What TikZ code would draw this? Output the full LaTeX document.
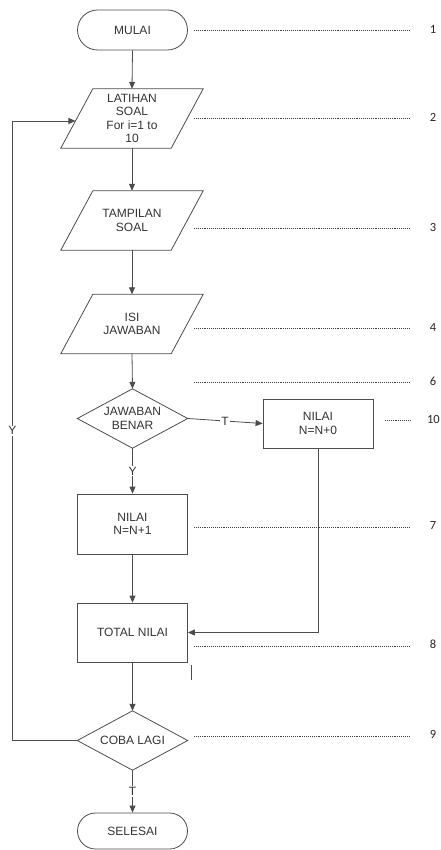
\documentclass[tikz,border=0pt]{standalone}
\usepackage{fontspec}
\setmainfont{Liberation Sans}
\newfontfamily\numfont{Carlito}
\usetikzlibrary{shapes.misc,arrows.meta,calc}
\begin{document}
\begin{tikzpicture}[x=1pt,y=-1pt,
  every node/.style={font=\fontsize{12}{13.5}\selectfont, text=black!80},
  term/.style={rounded rectangle, draw=black!70, line width=0.8pt, minimum width=110pt, minimum height=40pt, inner sep=0pt},
  box/.style={rectangle, draw=black!70, line width=0.8pt, minimum width=110pt, inner sep=0pt, align=center},
  io/.style={rectangle, minimum width=142pt, minimum height=59pt, inner sep=0pt, align=center},
  dec/.style={rectangle, minimum width=110pt, minimum height=59pt, inner sep=0pt, align=center},
  shp/.style={draw=black!70, line width=0.8pt, line join=miter},
  arr/.style={draw=black!70, line width=0.8pt, -{Triangle[length=7pt,width=6pt]}},
  lbl/.style={fill=white, inner sep=1pt},
  lead/.style={draw=black!75, line width=0.9pt, dash pattern=on 1pt off 0.9pt},
  num/.style={font=\numfont\fontsize{12.5}{14}\selectfont, text=black!85, inner sep=0pt}
]
\useasboundingbox (0,0) rectangle (441,850);

% nodes
\node[term] (mulai) at (132.5,30) {MULAI};
\node[io] (latihan) at (132,118.5) {LATIHAN\\SOAL\\For i=1 to\\10};
\node[io] (tampil) at (132,220.5) {TAMPILAN\\SOAL};
\node[io] (isi) at (132,324) {ISI\\JAWABAN};
\node[dec] (jaw) at (132.5,418.5) {JAWABAN\\BENAR};
\node[box, minimum height=49pt] (nol) at (318,423.5) {NILAI\\N=N+0};
\node[box, minimum height=60pt] (satu) at (132.5,524) {NILAI\\N=N+1};
\node[box, minimum height=59pt] (total) at (132.5,632.5) {TOTAL NILAI};
\node[dec] (coba) at (132.5,740.5) {COBA LAGI};
\node[term, minimum height=36pt] (selesai) at (132.5,831) {SELESAI};

% parallelograms
\foreach \n in {latihan,tampil,isi}{
  \draw[shp] ($(\n.north west)+(32,0)$) -- (\n.north east) -- ($(\n.south east)+(-32,0)$) -- (\n.south west) -- cycle;
}
% diamonds
\foreach \n in {jaw,coba}{
  \draw[shp] (\n.north) -- (\n.east) -- (\n.south) -- (\n.west) -- cycle;
}

% connectors
\draw[arr] (mulai.south) -- (latihan.north);
\draw[arr] (latihan.south) -- (tampil.north);
\draw[arr] (tampil.south) -- (isi.north);
\draw[arr] (isi.south) -- (jaw.north);
\draw[arr] (jaw.east) -- node[lbl]{T} (nol.west);
\draw[arr] (jaw.south) -- node[lbl]{Y} (satu.north);
\draw[arr] (satu.south) -- (total.north);
\draw[arr] (nol.south) -- (nol.south |- total.east) -- (total.east);
\draw[arr] (total.south) -- (coba.north);
\draw[arr] (coba.south) -- node[lbl]{T} (selesai.north);

\coordinate (latTL) at ($(latihan.north west)+(32,0)$);
\coordinate (latL) at ($(latihan.south west)!0.458!(latTL)$);
\path (latL) ++(-63,0) coordinate (loop);
\draw[arr] (coba.west) -- (coba.west -| loop) -- node[lbl]{Y} (loop) -- (latL);

% stray mark
\draw[draw=black!70, line width=0.8pt] (191,665) -- (191,680);

% leaders and numbers
\draw[lead] (194,30) -- (410,30);   \node[num] (n1) at (433,29) {1};
\draw[lead] (194,118) -- (410,118); \node[num] (n2) at (433,117) {2};
\draw[lead] (194,228) -- (410,228); \node[num] (n3) at (433,227) {3};
\draw[lead] (194,328) -- (410,328); \node[num] (n4) at (433,327) {4};
\draw[lead] (194,382) -- (410,382); \node[num] (n6) at (433,381) {6};
\draw[lead] (385,420) -- (410,420); \node[num, anchor=east] (n10) at (440,419) {10};
\draw[lead] (194,527) -- (410,527); \node[num] (n7) at (433,525) {7};
\draw[lead] (194,646) -- (410,646); \node[num] (n8) at (433,644) {8};
\draw[lead] (194,736) -- (410,736); \node[num] (n9) at (433,734) {9};
\end{tikzpicture}
\end{document}
